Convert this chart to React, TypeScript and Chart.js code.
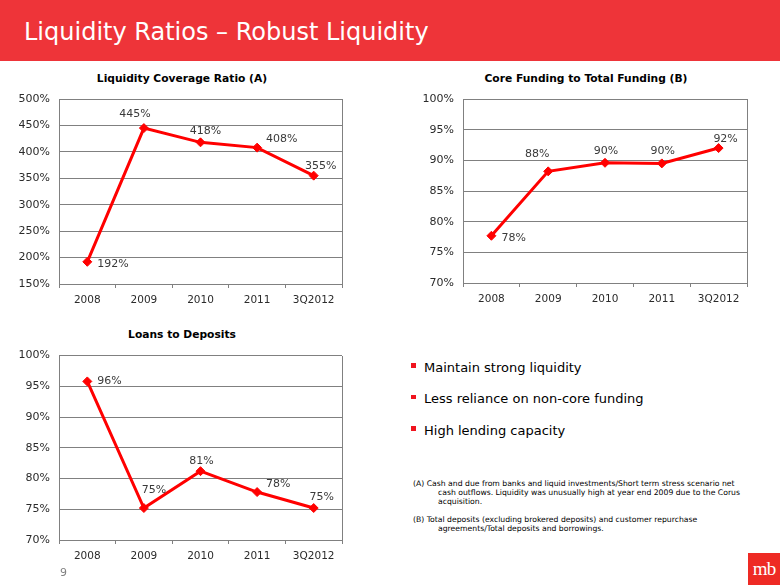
import React, { useEffect, useRef } from "react";
import { Chart, registerables } from "chart.js";

Chart.register(...registerables);

// ---------- data ----------
const categories = ["2008", "2009", "2010", "2011", "3Q2012"];

const lcrValues = [192, 445, 418, 408, 355];
const lcrLabels = ["192%", "445%", "418%", "408%", "355%"];

const coreFundingValues = [77.7, 88.2, 89.6, 89.5, 92.0];
const coreFundingLabels = ["78%", "88%", "90%", "90%", "92%"];

const loansToDepositsValues = [95.8, 75.2, 81.2, 77.8, 75.2];
const loansToDepositsLabels = ["96%", "75%", "81%", "78%", "75%"];

const bullets = [
  "Maintain strong liquidity",
  "Less reliance on non-core funding",
  "High lending capacity",
];

const footnoteA = [
  "(A) Cash and due from banks and liquid investments/Short term stress scenario net",
  "cash outflows. Liquidity was unusually high at year end 2009 due to the Corus",
  "acquisition.",
];
const footnoteB = [
  "(B) Total deposits (excluding brokered deposits) and customer repurchase",
  "agreements/Total deposits and borrowings.",
];

// ---------- label placement (style, not data) ----------
type Placement = { dx: number; dy: number; align: "left" | "center" };
const lcrPlacement: Placement[] = [
  { dx: 10, dy: 2, align: "left" },
  { dx: -9, dy: -14, align: "center" },
  { dx: 5, dy: -11, align: "center" },
  { dx: 9, dy: -8, align: "left" },
  { dx: 7, dy: -10, align: "center" },
];
const corePlacement: Placement[] = [
  { dx: 10, dy: 2, align: "left" },
  { dx: -11, dy: -17, align: "center" },
  { dx: 1, dy: -12, align: "center" },
  { dx: 1, dy: -12, align: "center" },
  { dx: 7, dy: -9, align: "center" },
];
const ltdPlacement: Placement[] = [
  { dx: 10, dy: 0, align: "left" },
  { dx: 10, dy: -18, align: "center" },
  { dx: 1, dy: -10, align: "center" },
  { dx: 9, dy: -8, align: "left" },
  { dx: 8, dy: -11, align: "center" },
];

// ---------- styles ----------
const FONT = "'DejaVu Sans', Verdana, sans-serif";
const RED = "#FF0000";
const BAR_RED = "#EE3439";
const GRID = "#808080";
const TEXT = "#2b2b2b";

const framePlugin = {
  id: "plotFrame",
  beforeDatasetsDraw(chart: any) {
    const { ctx, chartArea } = chart;
    ctx.save();
    ctx.strokeStyle = GRID;
    ctx.lineWidth = 1;
    const x = Math.round(chartArea.right) + 0.5;
    ctx.beginPath();
    ctx.moveTo(x, Math.round(chartArea.top));
    ctx.lineTo(x, Math.round(chartArea.bottom) + 1);
    ctx.stroke();
    ctx.restore();
  },
};

const pointLabelPlugin = {
  id: "pointLabels",
  afterDatasetsDraw(chart: any, _args: any, opts: any) {
    const { ctx } = chart;
    const meta = chart.getDatasetMeta(0);
    ctx.save();
    ctx.font = `11px ${FONT}`;
    ctx.fillStyle = "#3a3a3a";
    ctx.textBaseline = "middle";
    meta.data.forEach((pt: any, i: number) => {
      const p: Placement = opts.placements[i];
      ctx.textAlign = p.align;
      ctx.fillText(opts.texts[i], pt.x + p.dx, pt.y + p.dy);
    });
    ctx.restore();
  },
};

type ChartProps = {
  left: number;
  top: number;
  width: number;
  height: number;
  values: number[];
  texts: string[];
  placements: Placement[];
  yMin: number;
  yMax: number;
  yStep: number;
  yAxisWidth: number;
  xAxisHeight: number;
  padTop: number;
  padRight: number;
};

function LineChart(props: ChartProps) {
  const ref = useRef<HTMLCanvasElement>(null);
  useEffect(() => {
    const chart = new Chart(ref.current!, {
      type: "line",
      data: {
        labels: categories,
        datasets: [
          {
            data: props.values,
            borderColor: RED,
            backgroundColor: RED,
            borderWidth: 3,
            pointStyle: "rectRot",
            pointRadius: 4.5,
            pointBackgroundColor: RED,
            pointBorderColor: RED,
            pointBorderWidth: 1,
            tension: 0,
          },
        ],
      },
      options: {
        animation: false,
        responsive: false,
        maintainAspectRatio: false,
        devicePixelRatio: 1,
        layout: { padding: { top: props.padTop, right: props.padRight, left: 0, bottom: 0 } },
        plugins: {
          legend: { display: false },
          tooltip: { enabled: false },
          title: { display: false },
          pointLabels: { texts: props.texts, placements: props.placements },
        } as any,
        scales: {
          x: {
            type: "category",
            offset: true,
            grid: {
              display: true,
              offset: true,
              drawOnChartArea: false,
              drawTicks: true,
              tickLength: 4,
              color: GRID,
            },
            border: { display: true, color: GRID },
            ticks: {
              color: TEXT,
              font: { family: FONT, size: 10.5 },
              padding: 6,
              maxRotation: 0,
              autoSkip: false,
            },
            afterFit: (s: any) => {
              s.height = props.xAxisHeight;
            },
          },
          y: {
            min: props.yMin,
            max: props.yMax,
            ticks: {
              stepSize: props.yStep,
              callback: (v: any) => v + "%",
              color: TEXT,
              font: { family: FONT, size: 11 },
              padding: 9,
            },
            grid: { color: GRID, drawTicks: false },
            border: { display: true, color: GRID },
            afterFit: (s: any) => {
              s.width = props.yAxisWidth;
            },
          },
        },
      } as any,
      plugins: [framePlugin, pointLabelPlugin],
    });
    return () => chart.destroy();
  }, []);
  return (
    <canvas
      ref={ref}
      width={props.width}
      height={props.height}
      style={{ position: "absolute", left: props.left, top: props.top, width: props.width, height: props.height }}
    />
  );
}

function ChartTitle({ text, cx, cy }: { text: string; cx: number; cy: number }) {
  return (
    <div
      style={{
        position: "absolute",
        left: cx - 150,
        width: 300,
        top: cy - 8,
        height: 16,
        lineHeight: "16px",
        textAlign: "center",
        fontFamily: FONT,
        fontWeight: "bold",
        fontSize: 10.7,
        color: "#000",
        whiteSpace: "nowrap",
      }}
    >
      {text}
    </div>
  );
}

export default function App() {
  return (
    <div
      style={{
        position: "fixed",
        left: 0,
        top: 0,
        width: 780,
        height: 585,
        background: "#fff",
        overflow: "hidden",
        fontFamily: FONT,
      }}
    >
      {/* title bar */}
      <div style={{ position: "absolute", left: 0, top: 0, width: 780, height: 61, background: BAR_RED }} />
      <div
        style={{
          position: "absolute",
          left: 24,
          top: 20,
          lineHeight: "24px",
          fontSize: 24,
          color: "#fff",
          whiteSpace: "nowrap",
        }}
      >
        Liquidity Ratios – Robust Liquidity
      </div>

      <ChartTitle text="Liquidity Coverage Ratio (A)" cx={182} cy={79} />
      <ChartTitle text="Core Funding to Total Funding (B)" cx={586} cy={79} />
      <ChartTitle text="Loans to Deposits" cx={182} cy={335} />

      <LineChart
        left={0}
        top={80}
        width={360}
        height={230}
        values={lcrValues}
        texts={lcrLabels}
        placements={lcrPlacement}
        yMin={150}
        yMax={500}
        yStep={50}
        yAxisWidth={59}
        xAxisHeight={26}
        padTop={19}
        padRight={18}
      />
      <LineChart
        left={390}
        top={80}
        width={390}
        height={230}
        values={coreFundingValues}
        texts={coreFundingLabels}
        placements={corePlacement}
        yMin={70}
        yMax={100}
        yStep={5}
        yAxisWidth={73}
        xAxisHeight={27}
        padTop={19}
        padRight={33}
      />
      <LineChart
        left={0}
        top={340}
        width={360}
        height={230}
        values={loansToDepositsValues}
        texts={loansToDepositsLabels}
        placements={ltdPlacement}
        yMin={70}
        yMax={100}
        yStep={5}
        yAxisWidth={59}
        xAxisHeight={30}
        padTop={14}
        padRight={18}
      />

      {/* bullets */}
      {bullets.map((b, i) => (
        <React.Fragment key={b}>
          <div
            style={{
              position: "absolute",
              left: 411,
              top: 363 + i * 31.5,
              width: 4.5,
              height: 4.5,
              background: "#F0141E",
            }}
          />
          <div
            style={{
              position: "absolute",
              left: 424,
              top: 359.5 + i * 31.5,
              lineHeight: "16px",
              fontSize: 13,
              color: "#000",
              whiteSpace: "nowrap",
            }}
          >
            {b}
          </div>
        </React.Fragment>
      ))}

      {/* footnotes */}
      {[
        { lines: footnoteA, top: 479 },
        { lines: footnoteB, top: 515 },
      ].map((f, k) => (
        <div
          key={k}
          style={{ position: "absolute", left: 413, top: f.top, fontSize: 7.7, lineHeight: "9px", color: "#000" }}
        >
          {f.lines.map((l, i) => (
            <div key={i} style={{ paddingLeft: i === 0 ? 0 : 25, whiteSpace: "nowrap" }}>
              {l}
            </div>
          ))}
        </div>
      ))}

      {/* page number */}
      <div
        style={{ position: "absolute", left: 60, top: 566, fontSize: 11, lineHeight: "14px", color: "#808080" }}
      >
        9
      </div>

      {/* logo */}
      <div
        style={{
          position: "absolute",
          left: 748,
          top: 553,
          width: 32,
          height: 32,
          background: "#EE2A24",
          color: "#fff",
          fontFamily: "'Liberation Serif', 'DejaVu Serif', serif",
          fontSize: 19,
          lineHeight: "32px",
          textAlign: "center",
          letterSpacing: -1,
        }}
      >
        mb
      </div>
    </div>
  );
}
